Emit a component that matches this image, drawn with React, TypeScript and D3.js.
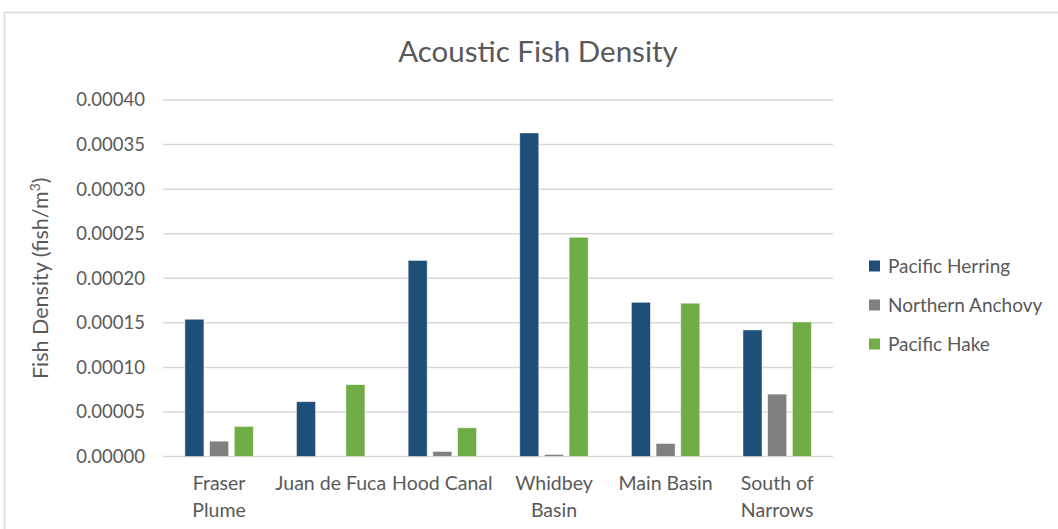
import React, { useEffect, useRef } from 'react';
import * as d3 from 'd3';

const categories = ['Fraser Plume', 'Juan de Fuca', 'Hood Canal', 'Whidbey Basin', 'Main Basin', 'South of Narrows'];
// how Excel wrapped the axis labels
const categoryLines = [['Fraser', 'Plume'], ['Juan de Fuca'], ['Hood Canal'], ['Whidbey', 'Basin'], ['Main Basin'], ['South of', 'Narrows']];

const seriesNames = ['Pacific Herring', 'Northern Anchovy', 'Pacific Hake'];
const seriesColors = ['#1F4E79', '#808080', '#70AD47'];

const herring = [0.000154, 0.0000615, 0.00022, 0.000363, 0.000173, 0.000142];
const anchovy = [0.0000172, 0, 0.0000056, 0.0000022, 0.0000146, 0.00007];
const hake = [0.0000337, 0.0000806, 0.0000322, 0.000246, 0.000172, 0.000151];

const yTicks = [0, 0.00005, 0.0001, 0.00015, 0.0002, 0.00025, 0.0003, 0.00035, 0.0004];

const FONT = 'Lato, "Open Sans", sans-serif';
const TEXT = '#595959';

export default function App() {
  const svgRef = useRef<SVGSVGElement>(null);

  useEffect(() => {
    if (!svgRef.current) return;
    const width = 1058;
    const height = 529;
    const plot = { left: 163.3, right: 833, top: 100, bottom: 456.5 };

    const svg = d3.select(svgRef.current);
    svg.selectAll('*').remove();
    svg.attr('width', width).attr('height', height);

    // chart frame
    svg.append('rect')
      .attr('x', 4.5).attr('y', 12.5)
      .attr('width', width + 10).attr('height', height + 10)
      .attr('fill', '#fff')
      .attr('stroke', '#D9D9D9')
      .attr('stroke-width', 1.5);

    const x0 = d3.scaleBand<string>()
      .domain(categories)
      .range([plot.left, plot.right]);

    const groupW = 68.4;
    const x1 = d3.scaleBand<string>()
      .domain(seriesNames)
      .range([(x0.bandwidth() - groupW) / 2, (x0.bandwidth() + groupW) / 2])
      .paddingInner(0.23);

    const y = d3.scaleLinear()
      .domain([0, 0.0004])
      .range([plot.bottom, plot.top]);

    // gridlines
    svg.append('g')
      .selectAll('line')
      .data(yTicks)
      .enter()
      .append('line')
      .attr('x1', plot.left)
      .attr('x2', plot.right)
      .attr('y1', d => y(d))
      .attr('y2', d => y(d))
      .attr('stroke', '#D9D9D9')
      .attr('stroke-width', 1.5);

    // y tick labels
    svg.append('g')
      .selectAll('text')
      .data(yTicks)
      .enter()
      .append('text')
      .attr('x', 145)
      .attr('y', d => y(d))
      .attr('dy', '0.35em')
      .attr('text-anchor', 'end')
      .attr('font-family', FONT)
      .attr('font-size', 18.5)
      .attr('fill', TEXT)
      .text(d => d3.format('.5f')(d));

    // bars
    const allSeries = [herring, anchovy, hake];
    const rows = categories.map((c, i) => ({
      cat: c,
      vals: seriesNames.map((s, k) => ({ s, k, v: allSeries[k][i] }))
    }));

    const groups = svg.append('g')
      .selectAll('g')
      .data(rows)
      .enter()
      .append('g')
      .attr('transform', d => `translate(${x0(d.cat)},0)`);

    groups.selectAll('rect')
      .data(d => d.vals.filter(v => v.v > 0))
      .enter()
      .append('rect')
      .attr('x', d => x1(d.s)!)
      .attr('y', d => y(d.v))
      .attr('width', x1.bandwidth())
      .attr('height', d => plot.bottom - y(d.v))
      .attr('fill', d => seriesColors[d.k])
      .attr('stroke', '#fff')
      .attr('stroke-opacity', 0.6)
      .attr('stroke-width', 0.75);

    // x labels
    const xl = svg.append('g')
      .selectAll('text')
      .data(categoryLines)
      .enter()
      .append('text')
      .attr('x', (d, i) => x0(categories[i])! + x0.bandwidth() / 2)
      .attr('y', 490)
      .attr('text-anchor', 'middle')
      .attr('font-family', FONT)
      .attr('font-size', 19.5)
      .attr('fill', TEXT);
    xl.selectAll('tspan')
      .data(d => d)
      .enter()
      .append('tspan')
      .attr('x', function () { return (this.parentNode as SVGTextElement).getAttribute('x'); })
      .attr('dy', (d, i) => (i === 0 ? 0 : 27))
      .text(d => d);

    // y axis title
    const yt = svg.append('text')
      .attr('transform', `translate(48,${(plot.top + plot.bottom) / 2}) rotate(-90)`)
      .attr('text-anchor', 'middle')
      .attr('font-family', FONT)
      .attr('font-size', 21.5)
      .attr('fill', TEXT);
    yt.append('tspan').text('Fish Density (fish/m');
    yt.append('tspan').attr('font-size', 14).attr('dy', -8).text('3');
    yt.append('tspan').attr('dy', 8).text(')');

    // title
    svg.append('text')
      .attr('x', 538)
      .attr('y', 62)
      .attr('text-anchor', 'middle')
      .attr('font-family', FONT)
      .attr('font-size', 29.5)
      .attr('fill', TEXT)
      .text('Acoustic Fish Density');

    // legend
    const legend = svg.append('g')
      .selectAll('g')
      .data(seriesNames)
      .enter()
      .append('g')
      .attr('transform', (d, i) => `translate(869,${266 + i * 39})`);
    legend.append('rect')
      .attr('x', 0).attr('y', -5.5)
      .attr('width', 11).attr('height', 11)
      .attr('fill', (d, i) => seriesColors[i]);
    legend.append('text')
      .attr('x', 19)
      .attr('dy', '0.35em')
      .attr('font-family', FONT)
      .attr('font-size', 19)
      .attr('fill', TEXT)
      .text(d => d);
  }, []);

  return <svg ref={svgRef} style={{ position: 'absolute', left: 0, top: 0, display: 'block' }} />;
}
